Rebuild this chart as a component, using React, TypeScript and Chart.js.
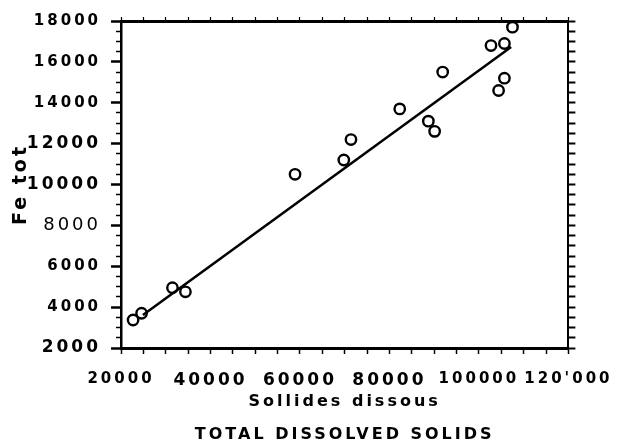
import React, { useEffect, useRef } from 'react';
import { Chart, registerables } from 'chart.js';

Chart.register(...registerables);

// Data
const tdsValues = [22700, 24600, 31500, 34400, 58900, 69800, 71400, 82300, 88700, 90100, 91900, 102700, 104400, 105700, 105700, 107500];
const feValues = [3370, 3700, 4950, 4750, 10500, 11200, 12200, 13700, 13100, 12600, 15500, 16800, 14600, 16900, 15200, 17700];

// Regression line end points
const fitTds = [24900, 107200];
const fitFe = [3610, 16730];

// Tick labels
const xTickValues = [20000, 40000, 60000, 80000, 100000, 120000];
const xTickLabels = ['20000', '40000', '60000', '80000', '100000', "120'000"];
const xHeavyTicks = [40000, 60000, 80000];
const yTickValues = [2000, 4000, 6000, 8000, 10000, 12000, 14000, 16000, 18000];
const yTickLabels = ['2000', '4000', '6000', '8000', '10000', '12000', '14000', '16000', '18000'];
const yHeavyTicks = [2000, 10000, 12000];
const yLightTicks = [8000];

const yTitle = 'Fe tot';
const xTitleLines = ['Sollides dissous', 'TOTAL DISSOLVED SOLIDS'];

const FAM = "'DejaVu Sans', sans-serif";

const spacingPlugin = {
  id: 'letterSpacing',
  beforeDraw(chart: any) {
    chart.ctx.letterSpacing = '3px';
  },
  afterDraw(chart: any) {
    chart.ctx.letterSpacing = '0px';
  },
};

export default function App() {
  const ref = useRef<HTMLCanvasElement>(null);

  useEffect(() => {
    if (!ref.current) return;
    const chart = new Chart(ref.current, {
      type: 'scatter',
      data: {
        datasets: [
          {
            label: 'Fe tot',
            data: tdsValues.map((x, i) => ({ x, y: feValues[i] })),
            pointRadius: 5.2,
            pointHoverRadius: 5.2,
            pointBorderWidth: 2.4,
            pointBorderColor: '#000',
            pointBackgroundColor: 'rgba(0,0,0,0)',
            showLine: false,
          },
          {
            type: 'line',
            label: 'fit',
            data: fitTds.map((x, i) => ({ x, y: fitFe[i] })),
            borderColor: '#000',
            borderWidth: 2.5,
            pointRadius: 0,
            fill: false,
          } as any,
        ],
      },
      options: {
        responsive: false,
        animation: false,
        layout: { padding: 0 },
        plugins: {
          legend: { display: false },
          tooltip: { enabled: false },
          title: { display: false },
        },
        scales: {
          x: {
            type: 'linear',
            position: 'bottom',
            min: 20000,
            max: 120000,
            afterFit: (s: any) => { s.height = 97; },
            border: { display: true, color: '#000', width: 3 },
            grid: { drawOnChartArea: false, tickLength: 6, tickColor: '#000', tickWidth: 1.5 },
            ticks: {
              stepSize: 5000,
              autoSkip: false,
              maxRotation: 0,
              padding: 16,
              color: '#000',
              callback: (v: any) => {
                const i = xTickValues.indexOf(Number(v));
                return i >= 0 ? xTickLabels[i] : '';
              },
              font: (ctx: any) => {
                const v = ctx.tick ? ctx.tick.value : 0;
                return xHeavyTicks.includes(v)
                  ? { family: FAM, size: 17, weight: 'bold' }
                  : { family: FAM, size: 15, weight: 'bold' };
              },
            },
            title: {
              display: true,
              text: xTitleLines,
              color: '#000',
              font: { family: FAM, size: 16, weight: 'bold', lineHeight: '33px' },
              padding: { top: 0, bottom: -6.5 },
            },
          },
          x2: {
            type: 'linear',
            position: 'top',
            min: 20000,
            max: 120000,
            afterFit: (s: any) => { s.height = 21; },
            border: { display: true, color: '#000', width: 3 },
            grid: { drawOnChartArea: false, tickLength: 4, tickColor: '#000', tickWidth: 1.2 },
            ticks: { display: false, stepSize: 5000, autoSkip: false },
          },
          y: {
            type: 'linear',
            position: 'left',
            min: 2000,
            max: 18000,
            afterFit: (s: any) => { s.width = 121; },
            border: { display: true, color: '#000', width: 2.5 },
            grid: {
              drawOnChartArea: false,
              tickLength: 10,
              tickColor: '#000',
              tickWidth: (ctx: any) => (ctx.tick && ctx.tick.value % 2000 === 0 ? 2.5 : 1.5),
              tickBorderDash: (ctx: any) => (ctx.tick && ctx.tick.value % 2000 === 0 ? [] : [4, 100]),
              tickBorderDashOffset: (ctx: any) => (ctx.tick && ctx.tick.value % 2000 === 0 ? 0 : 99),
            },
            ticks: {
              stepSize: 500,
              autoSkip: false,
              padding: 10,
              color: '#000',
              callback: (v: any) => {
                const i = yTickValues.indexOf(Number(v));
                return i >= 0 ? yTickLabels[i] : '';
              },
              font: (ctx: any) => {
                const v = ctx.tick ? ctx.tick.value : 0;
                if (yLightTicks.includes(v)) return { family: FAM, size: 18, weight: 'normal' };
                if (yHeavyTicks.includes(v)) return { family: FAM, size: 17, weight: 'bold' };
                return { family: FAM, size: 15, weight: 'bold' };
              },
            },
            title: {
              display: true,
              text: yTitle,
              color: '#000',
              font: { family: FAM, size: 19, weight: 'bold' },
              padding: { top: 9.6, bottom: 0 },
            },
          },
          y2: {
            type: 'linear',
            position: 'right',
            min: 2000,
            max: 18000,
            afterFit: (s: any) => { s.width = 45; },
            border: { display: true, color: '#000', width: 2 },
            grid: { drawOnChartArea: false, tickLength: 7, tickColor: '#000', tickWidth: 2 },
            ticks: { display: false, stepSize: 500, autoSkip: false },
          },
        },
      } as any,
      plugins: [spacingPlugin],
    });
    return () => chart.destroy();
  }, []);

  return (
    <canvas
      ref={ref}
      width={618}
      height={445}
      style={{ position: 'absolute', left: 0, top: 0, width: 618, height: 445, display: 'block' }}
    />
  );
}
